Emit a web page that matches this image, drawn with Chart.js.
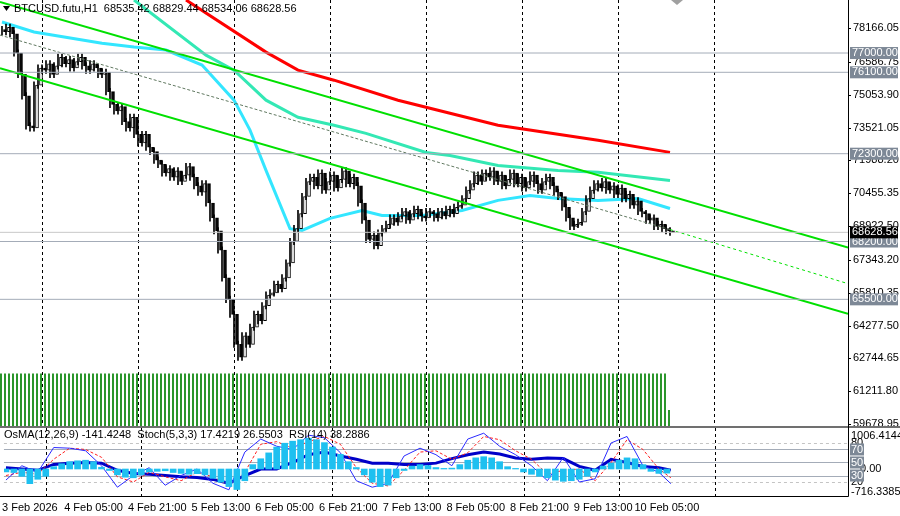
<!DOCTYPE html>
<html>
<head>
<meta charset="utf-8">
<script src="https://cdn.jsdelivr.net/npm/chart.js@4.4.1/dist/chart.umd.min.js"></script>
<style>
  body { margin: 0; background: #fff; }
  #wrap { position: relative; width: 900px; height: 516px; }
  #main { position: absolute; left: 0; top: 0; }
  #ind { position: absolute; left: 0; top: 426px; }
</style>
</head>
<body>
<div id="wrap">
  <canvas id="main" width="900" height="426"></canvas>
  <canvas id="ind" width="900" height="90"></canvas>
</div>
<script>
// hourly closes, BTCUSD H1, bar 0 = 3 Feb 07:00
var closes = [78000, 78200, 77900,
  77000, 76000, 75000, 73600, 73500,
  75500, 76300,
  76200, 76500, 76000, 76400, 76800, 76500, 76700, 76300, 76600, 76800, 76400, 76200, 76500, 76300, 76000, 76100,
  75200, 74600, 74300, 74500,
  73800, 73500, 74000, 73200, 72800, 73200, 72600, 72400,
  72000, 71800, 71400, 71600, 71200, 71500, 71000, 71300, 71700, 71200, 70800, 70500, 70900,
  70000, 69300, 68700, 67800,
  66500, 65500, 64800, 63400, 62800,
  63800, 63400, 64200, 64800, 64500,
  65200, 65700, 65800, 66200, 66000, 66500, 67200, 68200,
  68800, 69500, 70300, 71000, 71200,
  70800, 71400, 70600, 71000, 71300, 70700, 71100, 71500, 70900, 71200, 70800,
  70000, 69200, 68300, 68500, 68000, 68600,
  68800, 69000, 69300, 69100, 69400, 69600, 69200, 69500, 69700, 69400, 69300, 69600, 69500, 69300, 69600, 69400, 69700, 69500, 69800, 69900,
  70200, 70600, 70900, 71300, 71000, 71400, 71200, 71500,
  71000, 71300, 70800, 71100, 71400, 70900, 71200, 70700, 71000, 71300, 70900, 70600, 71000, 71200, 70800, 70500, 70300,
  69800, 69300, 68900, 69000, 69100,
  69600, 70200, 70600, 70900, 70700, 71000, 70600, 70800, 70400, 70700,
  70200, 70400, 69900, 70100, 69600, 69500, 69200, 69300, 68900, 69000, 68800, 68700, 68628.56];
var firstOpen = 78100;
var wick = 150;

// moving averages as [bar, price]
var maRed = [[46, 79476], [66, 77042], [74, 76200], [83, 75732], [99, 74796], [112, 74188], [124, 73626], [149, 72924], [167, 72362]];
var maTeal = [[33, 79476], [51, 76900], [58, 76200], [66, 74800], [74, 74000], [83, 73626], [91, 73250], [106, 72360], [112, 72220], [124, 71750], [139, 71520], [149, 71430], [167, 71050]];
var maCyan = [[0, 78450], [8, 77980], [25, 77460], [33, 77280], [41, 77140], [50, 76440], [58, 74800], [62, 73400], [66, 71520], [72, 68800], [75, 68720], [82, 69280], [90, 69650], [95, 69420], [105, 69420], [115, 69650], [124, 70120], [132, 70350], [139, 70210], [149, 70120], [159, 70210], [167, 69740]];

// regression channel ends [bar, price]
var chanUpper = [[-0.5, 79382], [211.5, 67916]];
var chanLower = [[-0.5, 76294], [211.5, 64828]];
var chanMid = [[-0.5, 77838], [167, 68759]];
var chanMidExt = [[167, 68759], [211.5, 66232]];

var levels = [77000, 76100, 72300, 68200, 65500];
var lastPrice = 68628.56;
var priceTicks = [78166.05, 76586.75, 75053.90, 73521.05, 71988.20, 70455.35, 68922.50, 67343.20, 65810.35, 64277.50, 62744.65, 61211.80, 59678.95];

// time axis
var timeTickBars = [6, 22, 38, 54, 70, 86, 102, 118, 134, 150, 166];
var timeTickLabels = ['3 Feb 2026', '4 Feb 05:00', '4 Feb 21:00', '5 Feb 13:00', '6 Feb 05:00', '6 Feb 21:00', '7 Feb 13:00', '8 Feb 05:00', '8 Feb 21:00', '9 Feb 13:00', '10 Feb 05:00'];
var gridBars = [10, 34, 58, 82, 106, 130, 154, 178];

// indicators, every 4 bars (last point = bar 167)
var rsi = [42, 40, 38, 47, 49, 50, 49, 38, 33, 32, 30, 28, 27, 24, 18, 30, 40, 40, 50, 62, 66, 60, 55, 49, 49, 47, 47, 49, 56, 62, 66, 63, 57, 55, 57, 56, 44, 38, 55, 50, 44, 42, 38.29];
var stochMain = [23, 45, 35, 73, 72, 68, 45, 12, 30, 42, 15, 30, 40, 18, 8, 66, 86, 75, 70, 92, 88, 65, 22, 12, 18, 60, 72, 62, 45, 86, 95, 75, 62, 45, 22, 58, 20, 25, 80, 90, 45, 35, 17.42];
var stochSignal = [30, 35, 32, 55, 72, 70, 58, 28, 20, 35, 28, 22, 35, 28, 15, 35, 78, 82, 72, 82, 90, 78, 42, 18, 14, 38, 66, 68, 55, 65, 90, 85, 68, 55, 32, 38, 40, 22, 50, 85, 70, 40, 26.55];
// OsMA every 2 bars
var osma = [-100, -120, -250, -500, -350, -250, 80, 180, 250, 280, 300, 250, 60, -50, -200, -280, -300, -200, -100, -80,
  -60, -120, -150, -180, -160, -200, -320, -450, -600, -700, -400, 150, 350, 550, 750, 880, 950, 1000, 1050, 1000,
  900, 750, 500, 250, 50, -200, -450, -600, -550, -300, -50, 100, 150, 120, 50, 20, 30, 150, 300, 380,
  420, 380, 250, 80, 20, -100, -180, -250, -300, -380, -420, -400, -350, -250, -100, 100, 200, 300, 380, 350,
  150, -80, -150, -141.42];

var FONT = '"Liberation Sans", Arial, sans-serif';

function pts(arr) { return arr.map(function(p) { return { x: p[0], y: p[1] }; }); }
function stepPts(vals, step, lastBar) {
  return vals.map(function(v, i) { return { x: (i === vals.length - 1 && lastBar !== undefined) ? lastBar : i * step, y: v }; });
}
function lineDs(data, color, width, dash) {
  return { type: 'line', data: data, borderColor: color, borderWidth: width, borderDash: dash || [],
    pointRadius: 0, tension: 0, fill: false, yAxisID: 'y' };
}

var wickData = [], bodyData = [], bodyColors = [], volData = [];
closes.forEach(function(c, i) {
  var o = i ? closes[i - 1] : firstOpen;
  wickData.push({ x: i, y: [Math.min(o, c) - wick, Math.max(o, c) + wick] });
  bodyData.push({ x: i, y: [o, c] });
  bodyColors.push(c >= o ? '#ffffff' : '#000000');
  volData.push({ x: i, y: i === closes.length - 1 ? 0.3 : 1 });
});

var datasets = [];
datasets.push({ type: 'bar', data: volData, yAxisID: 'yv', backgroundColor: '#008000', barThickness: 1 });
levels.forEach(function(l) { datasets.push(lineDs([{ x: -0.5, y: l }, { x: 211.5, y: l }], '#a4acb8', 1)); });
datasets.push(lineDs([{ x: -0.5, y: lastPrice }, { x: 211.5, y: lastPrice }], '#c8c8c8', 1));
datasets.push(lineDs(pts(chanUpper), '#00e000', 2));
datasets.push(lineDs(pts(chanLower), '#00e000', 2));
datasets.push(lineDs(pts(chanMid), '#607860', 1, [3, 2]));
datasets.push(lineDs(pts(chanMidExt), '#00e000', 1, [3, 3]));
datasets.push({ type: 'bar', data: wickData, yAxisID: 'y', backgroundColor: '#000', barThickness: 1 });
datasets.push({ type: 'bar', data: bodyData, yAxisID: 'y', backgroundColor: bodyColors, borderColor: '#000', borderWidth: 1, borderSkipped: false, barThickness: 3 });
datasets.push(lineDs(pts(maRed), '#ff0000', 3));
datasets.push(lineDs(pts(maTeal), '#33e8b4', 3));
datasets.push(lineDs(pts(maCyan), '#33e6ff', 3));

var mainDecor = {
  id: 'mainDecor',
  beforeDatasetsDraw: function(chart) {
    var c = chart.ctx, a = chart.chartArea, xs = chart.scales.x;
    c.save();
    c.strokeStyle = '#000'; c.lineWidth = 1; c.setLineDash([3, 3]);
    gridBars.forEach(function(b) {
      var x = Math.round(xs.getPixelForValue(b)) + 0.5;
      c.beginPath(); c.moveTo(x, a.top); c.lineTo(x, a.bottom); c.stroke();
    });
    c.restore();
  },
  afterDraw: function(chart) {
    var c = chart.ctx, a = chart.chartArea, ys = chart.scales.y;
    c.save();
    c.strokeStyle = '#000'; c.lineWidth = 1;
    c.beginPath(); c.moveTo(a.right + 0.5, 0); c.lineTo(a.right + 0.5, 426); c.stroke();
    c.font = '11px ' + FONT; c.textBaseline = 'middle';
    c.fillStyle = '#000';
    priceTicks.forEach(function(v) {
      var y = ys.getPixelForValue(v);
      c.fillRect(a.right, Math.round(y), 3, 1);
      c.fillText(v.toFixed(2), a.right + 5, y);
    });
    levels.forEach(function(l) {
      var y = ys.getPixelForValue(l);
      c.fillStyle = '#7d8896'; c.fillRect(a.right + 2, y - 6, 48, 12);
      c.fillStyle = '#fff'; c.fillText(l.toFixed(2), a.right + 4, y);
    });
    var yl = ys.getPixelForValue(lastPrice);
    c.fillStyle = '#000'; c.fillRect(a.right + 2, yl - 6, 48, 12);
    c.fillStyle = '#fff'; c.fillText(lastPrice.toFixed(2), a.right + 4, yl);
    c.fillStyle = '#000';
    c.fillText('BTCUSD.futu,H1  68535.42 68829.44 68534.06 68628.56', 14, 9);
    c.beginPath(); c.moveTo(3, 6); c.lineTo(10, 6); c.lineTo(6.5, 11); c.closePath(); c.fill();
    c.fillStyle = '#a0a0a0';
    c.beginPath(); c.moveTo(671, 0); c.lineTo(683, 0); c.lineTo(677, 5); c.closePath(); c.fill();
    c.restore();
  }
};

new Chart(document.getElementById('main'), {
  data: { datasets: datasets },
  plugins: [mainDecor],
  options: {
    responsive: false, animation: false, events: [],
    layout: { padding: 0, autoPadding: false },
    plugins: { legend: { display: false }, tooltip: { enabled: false } },
    scales: {
      x: { type: 'linear', min: -0.5, max: 211.5, display: false, offset: false },
      y: { position: 'right', min: 59586, max: 79476,
        afterFit: function(s) { s.width = 52; },
        grid: { display: false, drawTicks: false }, border: { display: false },
        ticks: { display: false } },
      yv: { display: false, min: 0, max: 8.17 }
    }
  }
});

// indicator pane
var indGridSolid = [70, 50, 30];
var indGridDash = [80, 20];
var indDatasets = [
  { type: 'bar', data: stepPts(osma, 2), yAxisID: 'yh', backgroundColor: '#1ec0f0', barThickness: 6 },
  { type: 'line', data: stepPts(stochMain, 4, 167), yAxisID: 'y', borderColor: '#2a2aff', borderWidth: 1, pointRadius: 0, tension: 0 },
  { type: 'line', data: stepPts(stochSignal, 4, 167), yAxisID: 'y', borderColor: '#ff2020', borderWidth: 1, borderDash: [3, 2], pointRadius: 0, tension: 0 },
  { type: 'line', data: stepPts(rsi, 4, 167), yAxisID: 'y', borderColor: '#0000c8', borderWidth: 3, pointRadius: 0, tension: 0 }
];

var indDecor = {
  id: 'indDecor',
  beforeDatasetsDraw: function(chart) {
    var c = chart.ctx, a = chart.chartArea, ys = chart.scales.y, xs = chart.scales.x;
    c.save();
    c.lineWidth = 1;
    c.strokeStyle = '#a4acb8';
    indGridSolid.forEach(function(v) {
      var y = Math.round(ys.getPixelForValue(v)) + 0.5;
      c.beginPath(); c.moveTo(a.left, y); c.lineTo(a.right, y); c.stroke();
    });
    c.strokeStyle = '#c4c4c4'; c.setLineDash([3, 3]);
    indGridDash.forEach(function(v) {
      var y = Math.round(ys.getPixelForValue(v)) + 0.5;
      c.beginPath(); c.moveTo(a.left, y); c.lineTo(a.right, y); c.stroke();
    });
    c.strokeStyle = '#000';
    gridBars.forEach(function(b) {
      var x = Math.round(xs.getPixelForValue(b)) + 0.5;
      c.beginPath(); c.moveTo(x, a.top); c.lineTo(x, a.bottom); c.stroke();
    });
    c.restore();
  },
  afterDraw: function(chart) {
    var c = chart.ctx, a = chart.chartArea, ys = chart.scales.y, yh = chart.scales.yh;
    c.save();
    c.fillStyle = '#707070'; c.fillRect(0, 0, 900, 2);
    c.strokeStyle = '#000'; c.lineWidth = 1;
    c.beginPath(); c.moveTo(a.right + 0.5, 0); c.lineTo(a.right + 0.5, a.bottom + 0.5); c.lineTo(0, a.bottom + 0.5); c.stroke();
    c.font = '11px ' + FONT; c.textBaseline = 'middle';
    c.fillStyle = '#000';
    c.fillText('OsMA(12,26,9) -141.4248  Stoch(5,3,3) 17.4219 26.5503  RSI(14) 38.2886', 4, 9);
    c.fillText('1006.4144', a.right + 3, yh.getPixelForValue(1006) - 4);
    c.fillText('-716.3385', a.right + 3, yh.getPixelForValue(-716) + 2);
    c.fillText('0.00', a.right + 12, yh.getPixelForValue(0));
    indGridDash.forEach(function(v) { c.fillText(String(v), a.right + 3, ys.getPixelForValue(v)); });
    indGridSolid.forEach(function(v) {
      var y = ys.getPixelForValue(v);
      c.fillStyle = '#7d8896'; c.fillRect(a.right + 2, y - 6, 14, 12);
      c.fillStyle = '#fff'; c.fillText(String(v), a.right + 3, y);
    });
    c.restore();
  }
};

new Chart(document.getElementById('ind'), {
  data: { datasets: indDatasets },
  plugins: [indDecor],
  options: {
    responsive: false, animation: false, events: [],
    layout: { padding: { top: 2 }, autoPadding: false },
    plugins: { legend: { display: false }, tooltip: { enabled: false } },
    scales: {
      x: { type: 'linear', min: -0.5, max: 211.5, offset: false,
        afterFit: function(s) { s.height = 20; },
        afterBuildTicks: function(s) { s.ticks = timeTickBars.map(function(v) { return { value: v }; }); },
        grid: { display: false, drawOnChartArea: false, drawTicks: true, tickLength: 3, color: '#000' },
        border: { display: false },
        ticks: { color: '#000', font: { family: FONT, size: 11 }, padding: 2, autoSkip: false, maxRotation: 0,
          callback: function(v) { var i = timeTickBars.indexOf(v); return i >= 0 ? timeTickLabels[i] : ''; } } },
      y: { position: 'right', min: -1.5, max: 103, display: true,
        afterFit: function(s) { s.width = 52; },
        grid: { display: false }, border: { display: false }, ticks: { display: false } },
      yh: { display: false, min: -921, max: 1399 }
    }
  }
});
</script>
</body>
</html>
